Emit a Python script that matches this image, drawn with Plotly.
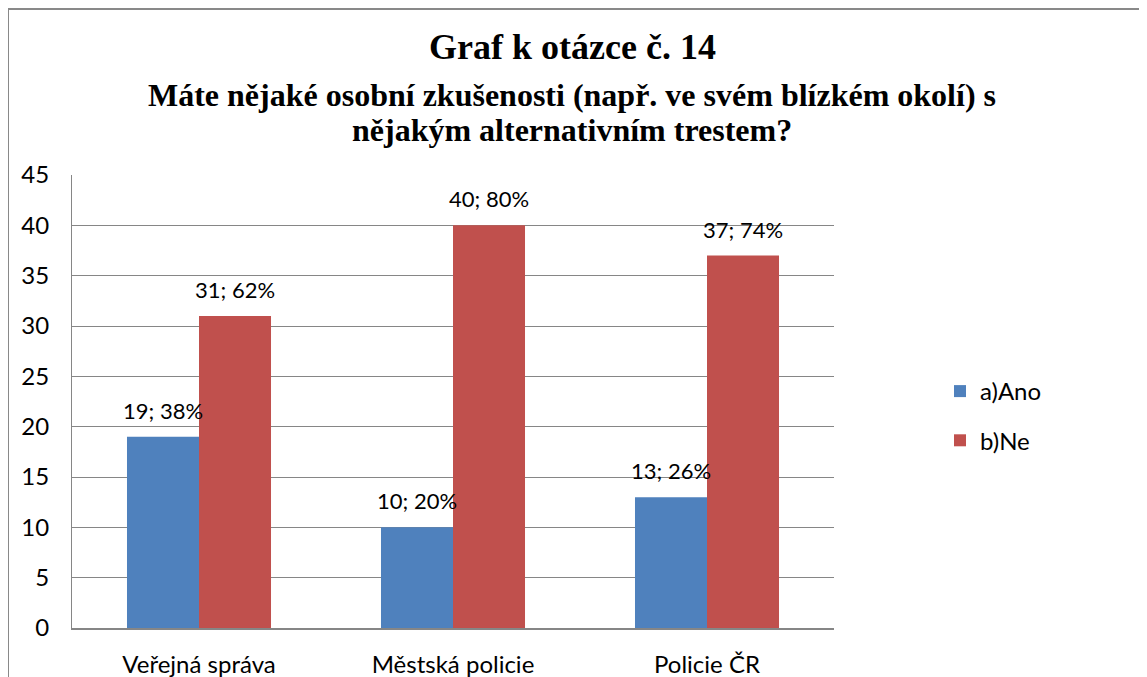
import plotly.graph_objects as go

categories = ["Veřejná správa", "Městská policie", "Policie ČR"]
series_names = ["a)Ano", "b)Ne"]
ano_values = [19, 10, 13]
ne_values = [31, 40, 37]
respondents = [50, 50, 50]

colors = ["#4F81BD", "#C0504D"]
label_font = "Lato, 'Open Sans', sans-serif"
title_font = "'Liberation Serif', 'Times New Roman', serif"

# page is drawn with an 8px body margin; layout numbers below are page pixels
OFF = 8
W, H = 1147 - OFF, 677 - OFF
L, R, T, B = 72, 834, 175, 628  # plot area on the page
pw, ph = R - L, B - T


def px_x(x):
    return (x - L) / pw


def px_y(y):
    return (B - y) / ph


fig = go.Figure()
for name, vals, color, shift in zip(series_names, [ano_values, ne_values], colors, [-36, 36]):
    fig.add_trace(
        go.Bar(
            x=categories,
            y=vals,
            name=name,
            marker=dict(color=color, line=dict(width=0)),
            legendgroup=name,
        )
    )
    for cat, v, n in zip(categories, vals, respondents):
        fig.add_annotation(
            x=cat,
            y=v,
            xref="x",
            yref="y",
            text=f"{v}; {round(v / n * 100)}%",
            showarrow=False,
            yanchor="bottom",
            xshift=shift,
            yshift=11,
            font=dict(family=label_font, size=22, color="#000000"),
        )

# title lines
titles = [
    ("<b>Graf k otázce č. 14</b>", 36, 47),
    ("<b>Máte nějaké osobní zkušenosti (např. ve svém blízkém okolí) s</b>", 32, 95),
    ("<b>nějakým alternativním trestem?</b>", 32, 130),
]
for text, size, yc in titles:
    fig.add_annotation(
        x=px_x(572),
        y=px_y(yc),
        xref="paper",
        yref="paper",
        text=text,
        showarrow=False,
        xanchor="center",
        yanchor="middle",
        font=dict(family=title_font, size=size, color="#000000"),
    )

# outer chart border
fig.add_shape(
    type="rect",
    xref="paper",
    yref="paper",
    x0=px_x(8),
    x1=px_x(1170),
    y0=px_y(720),
    y1=px_y(9),
    line=dict(color="#898989", width=2),
    layer="below",
)

fig.update_layout(
    width=W,
    height=H,
    margin=dict(l=L - OFF, r=W - (R - OFF), t=T - OFF, b=H - (B - OFF), autoexpand=False),
    paper_bgcolor="white",
    plot_bgcolor="white",
    barmode="group",
    bargap=0.433,
    bargroupgap=0,
    showlegend=True,
    legend=dict(
        x=px_x(940),
        y=px_y(416),
        xanchor="left",
        yanchor="middle",
        font=dict(family=label_font, size=24, color="#000000"),
        tracegroupgap=15,
        itemwidth=30,
    ),
)
fig.update_yaxes(
    range=[0, 45],
    dtick=5,
    showgrid=True,
    gridcolor="#868686",
    gridwidth=1,
    showline=True,
    linecolor="#868686",
    linewidth=1,
    ticks="",
    ticklabelstandoff=17,
    automargin=False,
    tickfont=dict(family=label_font, size=24, color="#000000"),
    zeroline=False,
)
fig.update_xaxes(
    showline=True,
    linecolor="#868686",
    linewidth=2,
    ticks="",
    ticklabelstandoff=14,
    automargin=False,
    tickfont=dict(family=label_font, size=24, color="#000000"),
)

fig.write_html("out.html")
